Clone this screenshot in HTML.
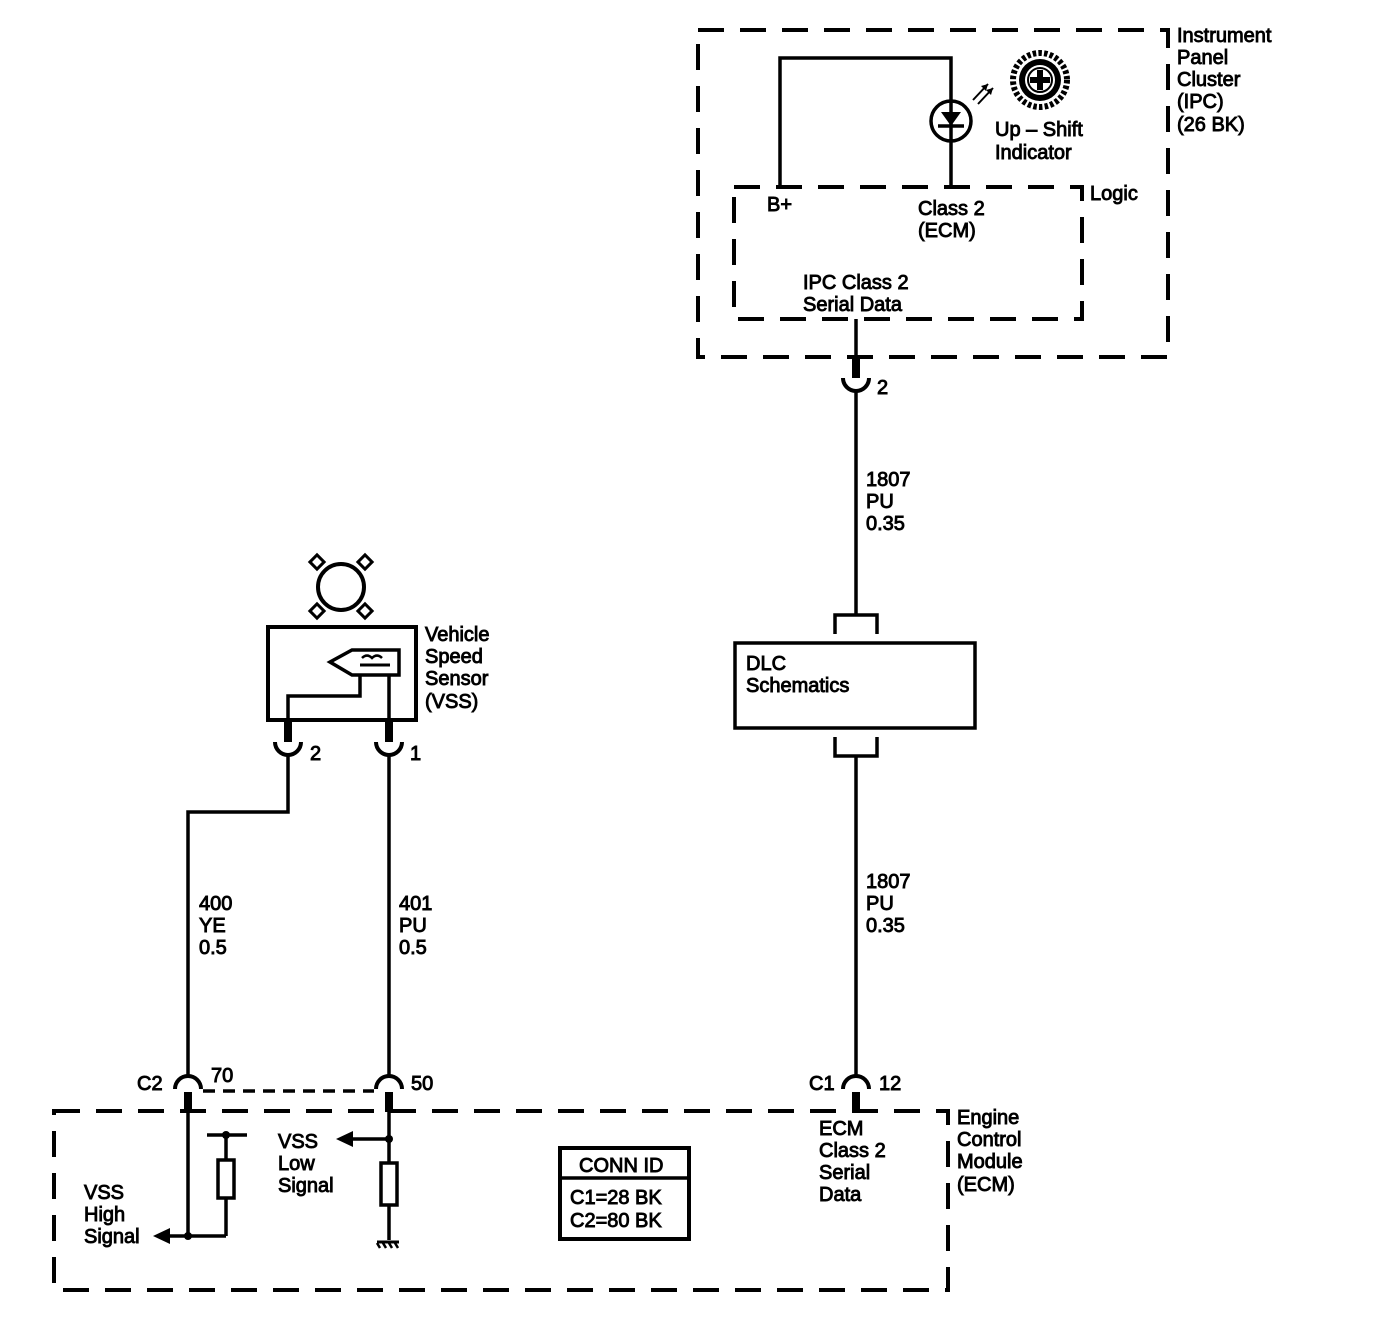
<!DOCTYPE html>
<html><head><style>
html,body{margin:0;padding:0;background:#fff;}
svg{display:block;}
text{font-family:"Liberation Sans",sans-serif;font-size:20px;fill:#000;stroke:#000;stroke-width:0.9;}
</style></head><body>
<svg width="1392" height="1344" viewBox="0 0 1392 1344" xmlns="http://www.w3.org/2000/svg">
<g fill="none" stroke="#000">
<rect x="698" y="30" width="470" height="327" stroke-width="4" stroke-dasharray="26 16"/>
<rect x="734" y="187" width="348" height="132" stroke-width="4" stroke-dasharray="26 16"/>
<polyline points="780,187 780,58 951,58 951,187" stroke-width="3.5"/>
<circle cx="951" cy="121" r="20" stroke-width="3.5"/>
<line x1="938" y1="126" x2="964" y2="126" stroke-width="3.5"/>
<line x1="973" y1="100" x2="988" y2="84" stroke-width="2"/>
<line x1="978" y1="104" x2="993" y2="88" stroke-width="2"/>
<!-- gear -->
<circle cx="1040" cy="80" r="27" stroke-width="6" stroke-dasharray="3.5 2.2"/>
<circle cx="1040" cy="80" r="21" fill="#000" stroke="none"/>
<circle cx="1040" cy="80" r="15" fill="#fff" stroke="none"/>
<circle cx="1040" cy="80" r="12" stroke-width="2"/>
<line x1="1030" y1="80" x2="1050" y2="80" stroke-width="6"/>
<line x1="1040" y1="70" x2="1040" y2="90" stroke-width="6"/>
<rect x="54" y="1111" width="894" height="179" stroke-width="4" stroke-dasharray="26 16"/>
<line x1="856" y1="319" x2="856" y2="357" stroke-width="3.5"/>
<line x1="856" y1="357" x2="856" y2="378" stroke-width="8"/>
<path d="M843,378 A13,13 0 0 0 869,378" stroke-width="4"/>
<line x1="856" y1="391" x2="856" y2="614" stroke-width="3.5"/>
<polyline points="835,634 835,615 877,615 877,634" stroke-width="3.5"/>
<rect x="735" y="643" width="240" height="85" stroke-width="3.5"/>
<polyline points="835,737 835,756 877,756 877,737" stroke-width="3.5"/>
<line x1="856" y1="756" x2="856" y2="1075" stroke-width="3.5"/>
<path d="M843,1089 A13,13 0 0 1 869,1089" stroke-width="4"/>
<line x1="856" y1="1092" x2="856" y2="1112" stroke-width="8"/>
<circle cx="341" cy="587" r="23" stroke-width="4"/>
<g stroke-width="3" fill="#fff">
<rect x="312" y="557" width="10" height="10" transform="rotate(45 317 562)"/>
<rect x="360" y="557" width="10" height="10" transform="rotate(45 365 562)"/>
<rect x="312" y="606" width="10" height="10" transform="rotate(45 317 611)"/>
<rect x="360" y="606" width="10" height="10" transform="rotate(45 365 611)"/>
</g>
<rect x="268" y="627" width="148" height="93" stroke-width="4"/>
<polygon points="330,662 352,650 399,650 399,675 352,675" stroke-width="3.5"/>
<line x1="360" y1="665" x2="390" y2="665" stroke-width="3"/>
<path d="M362,658 q5,-5 10,0 q5,-5 10,0" stroke-width="2.5"/>
<polyline points="360,675 360,696 288,696 288,720" stroke-width="3.5"/>
<line x1="389" y1="675" x2="389" y2="720" stroke-width="3.5"/>
<line x1="288" y1="720" x2="288" y2="742" stroke-width="8"/>
<line x1="389" y1="720" x2="389" y2="742" stroke-width="8"/>
<path d="M275,742 A13,13 0 0 0 301,742" stroke-width="4"/>
<path d="M376,742 A13,13 0 0 0 402,742" stroke-width="4"/>
<polyline points="288,755 288,812 188,812 188,1075" stroke-width="3.5"/>
<line x1="389" y1="755" x2="389" y2="1075" stroke-width="3.5"/>
<path d="M175,1089 A13,13 0 0 1 201,1089" stroke-width="4"/>
<path d="M376,1089 A13,13 0 0 1 402,1089" stroke-width="4"/>
<line x1="203" y1="1091" x2="374" y2="1091" stroke-width="3.5" stroke-dasharray="12 8"/>
<line x1="188" y1="1092" x2="188" y2="1112" stroke-width="8"/>
<line x1="389" y1="1092" x2="389" y2="1112" stroke-width="8"/>
<line x1="188" y1="1112" x2="188" y2="1236" stroke-width="3.5"/>
<line x1="168" y1="1236" x2="226" y2="1236" stroke-width="3.5"/>
<line x1="226" y1="1236" x2="226" y2="1198" stroke-width="3.5"/>
<rect x="218" y="1160" width="16" height="38" stroke-width="3.5"/>
<line x1="226" y1="1160" x2="226" y2="1135" stroke-width="3.5"/>
<line x1="207" y1="1135" x2="247" y2="1135" stroke-width="3.5"/>
<line x1="389" y1="1112" x2="389" y2="1163" stroke-width="3.5"/>
<line x1="350" y1="1139" x2="389" y2="1139" stroke-width="3.5"/>
<rect x="381" y="1163" width="16" height="42" stroke-width="3.5"/>
<line x1="389" y1="1205" x2="389" y2="1240" stroke-width="3.5"/>
<line x1="377" y1="1242" x2="399" y2="1242" stroke-width="3"/>
<rect x="560" y="1148" width="129" height="91" stroke-width="4"/>
<line x1="560" y1="1178" x2="689" y2="1178" stroke-width="3.5"/>
</g>
<g fill="#000">
<polygon points="941,112 961,112 951,126"/>
<polygon points="153,1236 170,1228 170,1244"/>
<polygon points="336,1139 353,1131 353,1147"/>
<circle cx="188" cy="1236" r="4"/><circle cx="226" cy="1135" r="4"/><circle cx="389" cy="1139" r="4"/>
<polygon points="988,84 981,86 986,91"/><polygon points="993,88 986,90 991,95"/>
</g>
<g stroke="#000" stroke-width="2.5"><line x1="380" y1="1248" x2="377" y2="1243"/><line x1="386" y1="1248" x2="383" y2="1243"/><line x1="392" y1="1248" x2="389" y2="1243"/><line x1="398" y1="1248" x2="395" y2="1243"/></g>
<text x="1177" y="42">Instrument</text><text x="1177" y="64">Panel</text><text x="1177" y="86">Cluster</text><text x="1177" y="108">(IPC)</text><text x="1177" y="131">(26 BK)</text>
<text x="995" y="136">Up – Shift</text><text x="995" y="159">Indicator</text>
<text x="1090" y="200">Logic</text>
<text x="767" y="211">B+</text>
<text x="918" y="215">Class 2</text><text x="918" y="237">(ECM)</text>
<text x="803" y="289">IPC Class 2</text><text x="803" y="311">Serial Data</text>
<text x="877" y="394">2</text>
<text x="866" y="486">1807</text><text x="866" y="508">PU</text><text x="866" y="530">0.35</text>
<text x="746" y="670">DLC</text><text x="746" y="692">Schematics</text>
<text x="866" y="888">1807</text><text x="866" y="910">PU</text><text x="866" y="932">0.35</text>
<text x="425" y="641">Vehicle</text><text x="425" y="663">Speed</text><text x="425" y="685">Sensor</text><text x="425" y="708">(VSS)</text>
<text x="310" y="760">2</text><text x="410" y="760">1</text>
<text x="199" y="910">400</text><text x="199" y="932">YE</text><text x="199" y="954">0.5</text>
<text x="399" y="910">401</text><text x="399" y="932">PU</text><text x="399" y="954">0.5</text>
<text x="137" y="1090">C2</text><text x="211" y="1082">70</text><text x="411" y="1090">50</text>
<text x="809" y="1090">C1</text><text x="879" y="1090">12</text>
<text x="957" y="1124">Engine</text><text x="957" y="1146">Control</text><text x="957" y="1168">Module</text><text x="957" y="1191">(ECM)</text>
<text x="819" y="1135">ECM</text><text x="819" y="1157">Class 2</text><text x="819" y="1179">Serial</text><text x="819" y="1201">Data</text>
<text x="278" y="1148">VSS</text><text x="278" y="1170">Low</text><text x="278" y="1192">Signal</text>
<text x="84" y="1199">VSS</text><text x="84" y="1221">High</text><text x="84" y="1243">Signal</text>
<text x="579" y="1172">CONN ID</text><text x="570" y="1204">C1=28 BK</text><text x="570" y="1227">C2=80 BK</text>
</svg>
</body></html>
